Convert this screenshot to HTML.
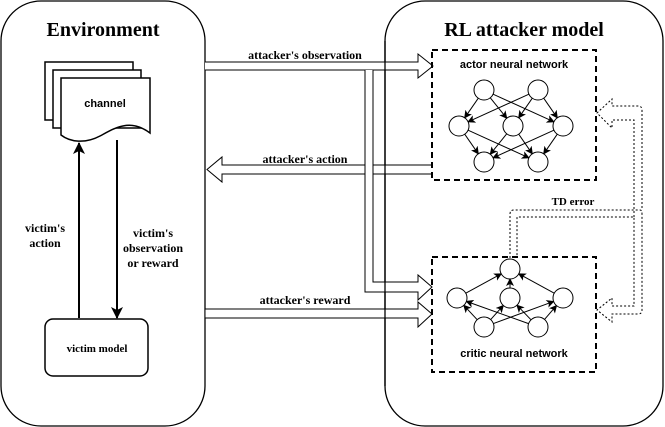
<!DOCTYPE html><html><head><style>body{margin:0;background:#fff}svg{display:block}</style></head><body>
<svg id="s" width="665" height="427" viewBox="0 0 665 427" xmlns="http://www.w3.org/2000/svg">
<defs><marker id="ah" markerWidth="8" markerHeight="8" refX="7" refY="4" orient="auto" markerUnits="userSpaceOnUse"><path d="M0,0 L8,4 L0,8 L2,4 z" fill="#000"/></marker>
<marker id="sh" markerWidth="12" markerHeight="12" refX="11" refY="6" orient="auto" markerUnits="userSpaceOnUse"><path d="M0,0 L12,6 L0,12 L3,6 z" fill="#000"/></marker></defs>
<g fill="none" stroke="#000">
<rect x="1" y="1" width="204" height="425" rx="40" stroke-width="1.3"/>
<rect x="385" y="1" width="278" height="425" rx="40" stroke-width="1.3"/>
<path d="M45,62 H133 V120 H45 Z" fill="#fff" stroke-width="1.5"/>
<path d="M53,70 H141 V128 H53 Z" fill="#fff" stroke-width="1.5"/>
<path d="M61,78 H150 V133 C130,118 115,128 100,136 C85,144 70,142 61,135 Z" fill="#fff" stroke-width="1.5"/>
<line x1="79" y1="318" x2="79" y2="143" stroke-width="2" marker-end="url(#sh)"/>
<line x1="117" y1="140" x2="117" y2="318" stroke-width="2" marker-end="url(#sh)"/>
<rect x="45" y="319" width="103" height="57" rx="8" stroke-width="1.5"/>
<path d="M205,62 H418 V54 L433,66 L418,78 V70 H205" fill="#fff"/>
<path d="M433,165 H222 V157 L207,169.5 L222,182 V174 H433" fill="#fff"/>
<path d="M365,70 V292 H418 V300 L432,287 L418,275 V282 H373 V70" fill="#fff"/>
<path d="M205,309 H418 V302 L432,314 L418,327 V318 H205 Z" fill="#fff"/>
<line x1="385" y1="41" x2="385" y2="386" stroke-width="1.3"/>
<rect x="432" y="50" width="164" height="130" stroke-width="2" stroke-dasharray="6,4"/>
<rect x="432" y="257" width="164" height="115" stroke-width="2" stroke-dasharray="6,4"/>
<g stroke-dasharray="2,2" stroke-width="1">
<path d="M510,258 V214 Q510,210 514,210 H640 Q642,210 642,214 V310 Q642,314 638,314 H612 V322 L597,310 L612,298 V306 H634 V217 H517 V258"/>
<path d="M634,217 V120 H612 V128 L597,113 L612,99 V106 H638 Q642,106 642,110 V210"/>
</g>
<g id="edges" stroke-width="1"></g>
<g id="nodes" fill="#fff" stroke-width="1"></g>
</g>
<g font-family="Liberation Serif, serif" font-weight="bold" fill="#000" text-anchor="middle">
<text x="103" y="36" font-size="20">Environment</text>
<text x="524" y="36" font-size="20">RL attacker model</text>
<text x="305" y="59" font-size="12">attacker's observation</text>
<text x="305" y="163" font-size="12">attacker's action</text>
<text x="305" y="304" font-size="12">attacker's reward</text>
<text x="573" y="205" font-size="11">TD error</text>
<text x="45" y="232" font-size="12">victim's</text>
<text x="45" y="247" font-size="12">action</text>
<text x="153" y="237" font-size="12">victim's</text>
<text x="153" y="252" font-size="12">observation</text>
<text x="153" y="267" font-size="12">or reward</text>
<text x="97" y="352" font-size="11">victim model</text>
</g>
<g font-family="Liberation Sans, sans-serif" font-weight="bold" fill="#000" text-anchor="middle">
<text x="105" y="107" font-size="11">channel</text>
<text x="514" y="68" font-size="11">actor neural network</text>
<text x="514" y="357" font-size="11">critic neural network</text>
</g>
</svg>
<script>
var N="http://www.w3.org/2000/svg",r=10;
var A=[[484,90],[538,90]],B=[[459,126],[513,126],[563,126]],C=[[484,162],[538,162]];
var D=[[484,327],[538,327]],E=[[457,298],[510,298],[563,298]],F=[[510,269]];
var eg=document.getElementById('edges'),ng=document.getElementById('nodes');
function link(a,b){var dx=b[0]-a[0],dy=b[1]-a[1],l=Math.hypot(dx,dy),ux=dx/l,uy=dy/l;
var e=document.createElementNS(N,'line');e.setAttribute('x1',a[0]+ux*r);e.setAttribute('y1',a[1]+uy*r);
e.setAttribute('x2',b[0]-ux*r);e.setAttribute('y2',b[1]-uy*r);e.setAttribute('marker-end','url(#ah)');eg.appendChild(e);}
function all(X,Y){X.forEach(function(a){Y.forEach(function(b){link(a,b)})})}
all(A,B);all(B,C);all(D,E);all(E,F);
A.concat(B,C,D,E,F).forEach(function(p){var c=document.createElementNS(N,'circle');c.setAttribute('cx',p[0]);c.setAttribute('cy',p[1]);c.setAttribute('r',r);ng.appendChild(c);});
</script>
</body></html>
